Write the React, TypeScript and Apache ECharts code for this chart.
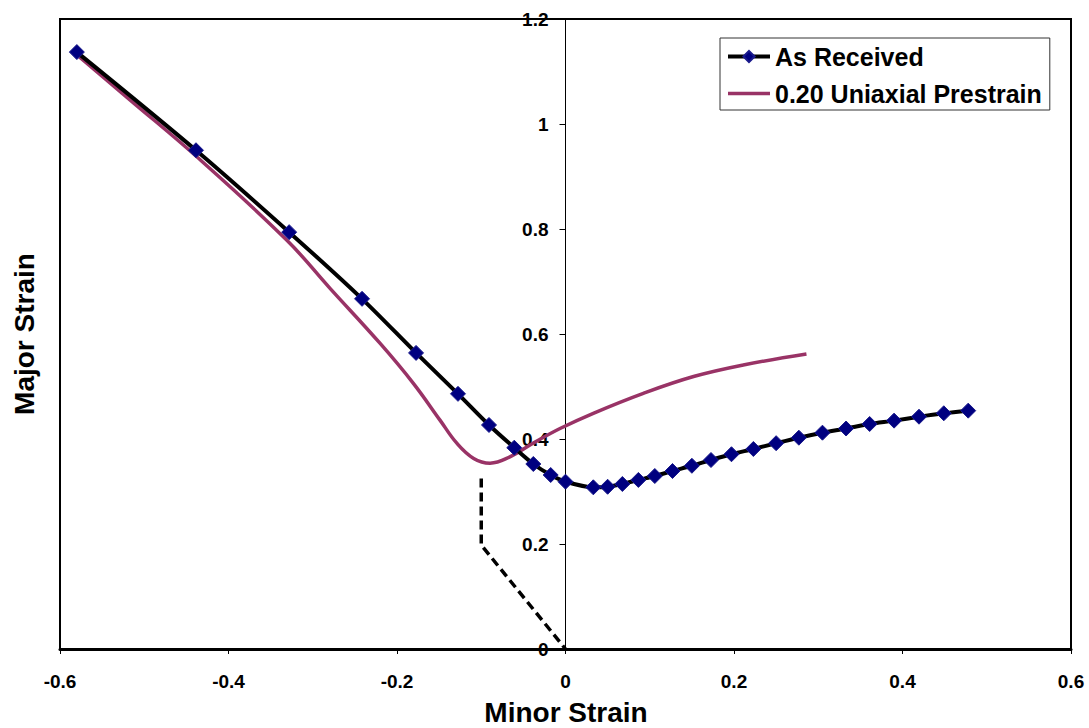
import React, { useEffect, useRef } from "react";
import * as echarts from "echarts";

const asReceivedX = [-0.580, -0.4386, -0.328, -0.2415, -0.1774, -0.1276, -0.0908, -0.0608, -0.0382, -0.0176, 0.0, 0.033, 0.050, 0.0675, 0.0865, 0.106, 0.127, 0.150, 0.1727, 0.197, 0.223, 0.250, 0.277, 0.305, 0.333, 0.361, 0.390, 0.4196, 0.449, 0.478];
const asReceivedY = [1.137, 0.950, 0.794, 0.667, 0.564, 0.486, 0.4267, 0.3834, 0.3524, 0.3314, 0.3187, 0.308, 0.309, 0.3143, 0.322, 0.3295, 0.339, 0.349, 0.360, 0.371, 0.381, 0.392, 0.4025, 0.412, 0.420, 0.4286, 0.435, 0.4425, 0.449, 0.454];

const prestrainX = [-0.577, -0.517, -0.438, -0.331, -0.2795, -0.220, -0.1806, -0.149, -0.129, -0.109, -0.0896, -0.066, -0.0386, -0.0065, 0.033, 0.0924, 0.152, 0.211, 0.286];
const prestrainY = [1.128, 1.046, 0.938, 0.779, 0.687, 0.582, 0.506, 0.436, 0.392, 0.363, 0.354, 0.366, 0.392, 0.420, 0.449, 0.487, 0.519, 0.541, 0.562];

const limitX = [-0.1, -0.1, 0.0];
const limitY = [0.325, 0.198, 0.0];

const xTicks = { min: -0.6, max: 0.6, interval: 0.2 };
const yTicks = { min: 0, max: 1.2, interval: 0.2 };

const seriesNames = ["As Received", "0.20 Uniaxial Prestrain"];
const axisTitles = { x: "Minor Strain", y: "Major Strain" };

const FONT = "'Liberation Sans', Arial, sans-serif";

const zip = (xs: number[], ys: number[]) => xs.map((x, i) => [x, ys[i]]);

const GRID_LEFT = 60;
const GRID_RIGHT = 18;
const WIDTH = 1089;

export default function App() {
  const ref = useRef<HTMLDivElement>(null);
  useEffect(() => {
    if (!ref.current) return;
    const chart = echarts.init(ref.current, undefined, { renderer: "svg" });
    const plotW = WIDTH - GRID_LEFT - GRID_RIGHT;
    const zeroOffset = ((0 - xTicks.min) / (xTicks.max - xTicks.min)) * plotW;
    chart.setOption({
      animation: false,
      backgroundColor: "#fff",
      grid: {
        left: GRID_LEFT,
        right: GRID_RIGHT,
        top: 19,
        bottom: 79,
        show: true,
        borderColor: "#000",
        borderWidth: 2,
        backgroundColor: "transparent",
      },
      legend: {
        data: [
          { name: seriesNames[0], lineStyle: { width: 4, color: "#000" } },
          { name: seriesNames[1], icon: "path://M0,0 L42,0 L42,3.5 L0,3.5 Z" },
        ],
        orient: "vertical",
        left: 720,
        top: 38,
        padding: [6, 8, 4, 6],
        itemGap: 12,
        itemWidth: 42,
        itemHeight: 14,
        borderColor: "#333",
        borderWidth: 1,
        backgroundColor: "#fff",
        textStyle: { fontFamily: FONT, fontWeight: "bold", fontSize: 25, color: "#000" },
      },
      xAxis: {
        type: "value",
        min: xTicks.min,
        max: xTicks.max,
        interval: xTicks.interval,
        axisLine: { onZero: false, lineStyle: { color: "#000", width: 3 } },
        axisTick: { show: true, length: 5, lineStyle: { color: "#000", width: 1 } },
        axisLabel: { margin: 23, fontFamily: FONT, fontWeight: "bold", fontSize: 19, color: "#000" },
        splitLine: { show: false },
      },
      yAxis: {
        type: "value",
        min: yTicks.min,
        max: yTicks.max,
        interval: yTicks.interval,
        offset: -zeroOffset,
        axisLine: { show: true, onZero: false, lineStyle: { color: "#000", width: 1 } },
        axisTick: { show: true, length: 6, lineStyle: { color: "#000", width: 1 } },
        axisLabel: { margin: 17, fontFamily: FONT, fontWeight: "bold", fontSize: 19, color: "#000" },
        splitLine: { show: false },
      },
      graphic: [
        {
          type: "text",
          x: 566,
          y: 712,
          style: {
            text: axisTitles.x,
            fontFamily: FONT,
            fontWeight: "bold",
            fontSize: 28,
            fill: "#000",
            textAlign: "center",
            textVerticalAlign: "middle",
          },
        },
        {
          type: "text",
          x: 24,
          y: 334,
          rotation: Math.PI / 2,
          style: {
            text: axisTitles.y,
            fontFamily: FONT,
            fontWeight: "bold",
            fontSize: 28,
            fill: "#000",
            textAlign: "center",
            textVerticalAlign: "middle",
          },
        },
      ],
      series: [
        {
          name: "limit",
          type: "line",
          data: zip(limitX, limitY),
          symbol: "none",
          lineStyle: { color: "#000", width: 3.5, type: [9, 5] },
          z: 1,
        },
        {
          name: seriesNames[1],
          type: "line",
          data: zip(prestrainX, prestrainY),
          symbol: "none",
          smooth: 0.4,
          lineStyle: { color: "#993366", width: 3.5 },
          itemStyle: { color: "#993366" },
          z: 2,
        },
        {
          name: seriesNames[0],
          type: "line",
          data: zip(asReceivedX, asReceivedY),
          symbol: "diamond",
          symbolSize: 15,
          smooth: 0.3,
          lineStyle: { color: "#000", width: 4 },
          itemStyle: { color: "#000080", borderColor: "#1a1a8c", borderWidth: 1 },
          z: 3,
        },
      ],
    });
    return () => chart.dispose();
  }, []);
  return (
    <div
      ref={ref}
      style={{ position: "fixed", left: 0, top: 0, width: WIDTH, height: 728, background: "#fff" }}
    />
  );
}
